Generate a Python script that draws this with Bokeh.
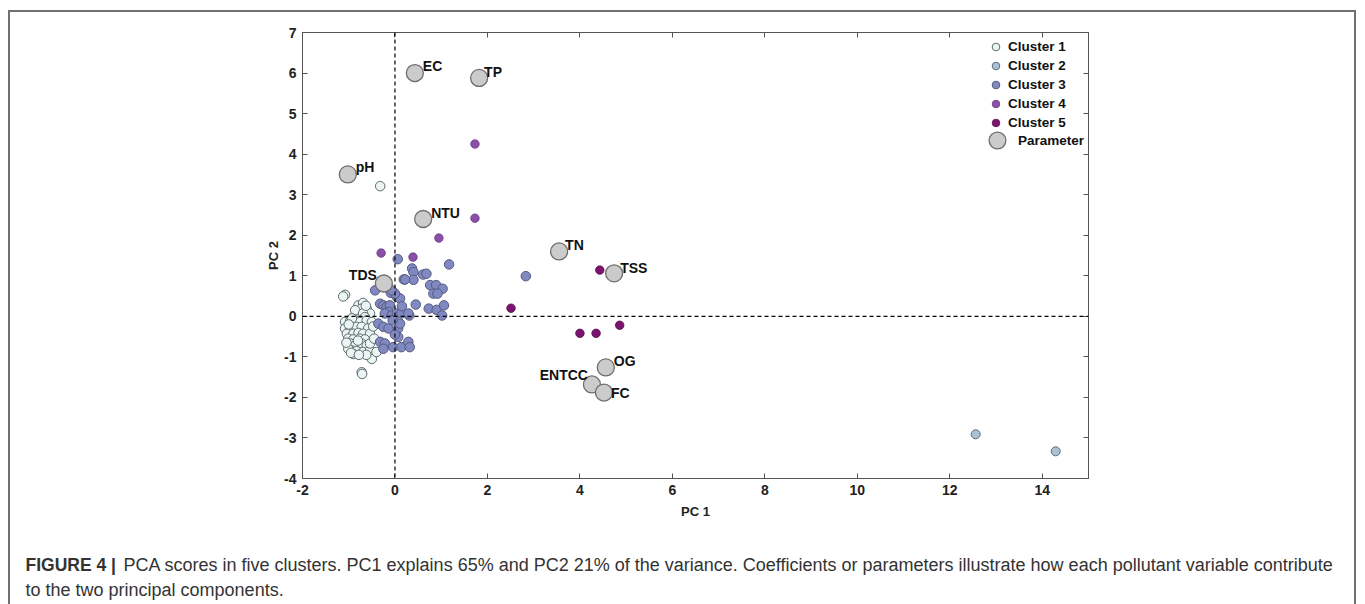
from bokeh.plotting import figure
from bokeh.models import (ColumnDataSource, LinearAxis, Span, Label, Legend, LegendItem,
                          FixedTicker)
from bokeh.layouts import column
from bokeh.core.properties import value
from bokeh.embed import file_html
from bokeh.resources import INLINE

# ---------------- data ----------------
c1_x = [-0.32, -1.08, -1.12, -0.72, -0.71,
        -0.79, -0.69, -0.61, -0.72, -0.86, -0.54, -0.69, -0.65, -1.08, -0.97, -0.86, -0.76, -0.61,
        -0.50, -1.08, -0.97, -0.83, -0.72, -0.58, -1.04, -0.90, -0.79, -0.69, -0.54, -1.01, -0.90,
        -0.76, -0.65, -0.97, -0.86, -0.72, -0.61, -0.94, -0.83, -0.69, -0.54, -0.90, -0.50, -0.40,
        -1.01, -0.54, -0.93, -1.00, -0.63, -0.80, -0.95, -0.45, -0.47, -0.62, -0.78, -1.05]
c1_y = [3.21, 0.53, 0.49, -1.38, -1.42,
        0.27, 0.33, 0.19, 0.19, 0.15, 0.07, 0.07, -0.02, -0.14, -0.12, -0.10, -0.14, -0.10,
        -0.14, -0.30, -0.30, -0.26, -0.26, -0.30, -0.43, -0.43, -0.41, -0.43, -0.43, -0.55, -0.57,
        -0.55, -0.57, -0.67, -0.72, -0.67, -0.72, -0.84, -0.86, -0.88, -0.84, -0.93, -1.05, -0.88,
        -0.80, -0.67, -0.05, -0.20, 0.26, -0.60, -0.90, -0.55, -0.25, -0.95, -0.95, -0.65]

c2_x = [12.56, 14.29]
c2_y = [-2.91, -3.33]

c3_x = [0.06, 1.17, 2.83, 0.37, 0.40, 0.61, 0.68, 0.19, 0.40, 0.76, 0.89, 1.03, 0.83, 0.92,
        -0.43, -0.09, 0.45, 0.73, 0.90, 1.06, 1.02, 0.31, -0.32, -0.25, -0.18, -0.11, -0.14,
        -0.22, -0.07, 0.04, 0.14, 0.29, -0.36, -0.25, -0.14, 0.07, 0.11, -0.32, -0.22, -0.04,
        0.14, 0.29, 0.32, -0.25, 0.07, 0.04, 0.11, 0.00, -0.07, 0.22, -0.05, 0.00, 0.15]
c3_y = [1.41, 1.28, 0.99, 1.18, 1.09, 1.03, 1.05, 0.91, 0.90, 0.77, 0.77, 0.68, 0.56, 0.56,
        0.64, 0.58, 0.29, 0.19, 0.16, 0.27, 0.02, 0.02, 0.31, 0.27, 0.23, 0.27, 0.11,
        0.07, 0.02, 0.07, 0.07, 0.07, -0.18, -0.26, -0.30, -0.30, -0.18, -0.63, -0.67, -0.76,
        -0.76, -0.63, -0.76, -0.80, -0.51, 0.48, 0.44, 0.56, 0.64, 0.91, -0.10, -0.45, 0.25]

c4_x = [1.73, 1.73, 0.95, -0.30, 0.39]
c4_y = [4.25, 2.42, 1.93, 1.56, 1.46]

c5_x = [4.43, 2.51, 4.00, 4.35, 4.86]
c5_y = [1.14, 0.20, -0.42, -0.42, -0.22]

param_names = ["EC", "TP", "pH", "NTU", "TN", "TSS", "TDS", "OG", "ENTCC", "FC"]
param_x = [0.43, 1.82, -1.02, 0.61, 3.55, 4.74, -0.24, 4.56, 4.26, 4.52]
param_y = [6.00, 5.88, 3.50, 2.40, 1.60, 1.06, 0.81, -1.26, -1.68, -1.88]

x_ticks = [-2, 0, 2, 4, 6, 8, 10, 12, 14]
y_ticks = [-4, -3, -2, -1, 0, 1, 2, 3, 4, 5, 6, 7]

caption_bold = "FIGURE 4 |"
caption_line1 = ("PCA scores in five clusters. PC1 explains 65% and PC2 21% of the variance. "
                 "Coefficients or parameters illustrate how each pollutant variable contribute")
caption_line2 = "to the two principal components."

# label placement (style only)
lab_dx = [8, 5, 8, 8, 6, 6, -7, 8, -4, 7]
lab_dy = [-7, -6, -7, -6, -6, -5, -8, -6, -9, 0]
lab_align = ["left", "left", "left", "left", "left", "left", "right", "left", "right", "left"]

# ---------------- layout constants ----------------
FONT = "Liberation Sans"
OX, OY = 10, 12          # canvas offset of inner content (after margin + border)
W = 1344                 # inner width
CH = 513                 # chart figure height
CAPH = 92                # caption figure height

# ---------------- chart ----------------
p = figure(width=W, height=CH, x_range=(-2, 15), y_range=(-4, 7),
           output_backend="svg", toolbar_location=None,
           min_border_left=302 - OX, min_border_right=W - (1088 - OX),
           min_border_top=32 - OY, min_border_bottom=CH - (478 - OY),
           background_fill_color="white", border_fill_color="white")
p.frame_align = False
p.grid.visible = False
p.outline_line_color = "#555555"
p.outline_line_width = 1

for ax in (p.xaxis[0], p.yaxis[0]):
    ax.major_tick_in = 5
    ax.major_tick_out = 0
    ax.minor_tick_line_color = None
    ax.axis_line_color = "#555555"
    ax.major_tick_line_color = "#555555"
    ax.major_label_text_font = FONT
    ax.major_label_text_font_style = "bold"
    ax.major_label_text_font_size = "14px"
    ax.major_label_text_color = "#222222"
    ax.axis_label_text_font = FONT
    ax.axis_label_text_font_style = "bold"
    ax.axis_label_text_font_size = "13px"
    ax.axis_label_text_color = "#222222"

p.xaxis[0].ticker = FixedTicker(ticks=x_ticks)
p.yaxis[0].ticker = FixedTicker(ticks=y_ticks)
p.xaxis[0].major_label_overrides = {t: str(t) for t in x_ticks}
p.yaxis[0].major_label_overrides = {t: str(t) for t in y_ticks}
p.xaxis[0].axis_label = "PC 1"
p.yaxis[0].axis_label = "PC 2"
p.xaxis[0].major_label_standoff = 6
p.yaxis[0].major_label_standoff = 6
p.xaxis[0].axis_label_standoff = 6
p.yaxis[0].axis_label_standoff = 0

top = LinearAxis(ticker=FixedTicker(ticks=x_ticks),
                 major_label_overrides={t: "" for t in x_ticks},
                 major_tick_in=5, major_tick_out=0, minor_tick_line_color=None,
                 axis_line_color="#555555", major_tick_line_color="#555555",
                 major_label_standoff=0)
right = LinearAxis(ticker=FixedTicker(ticks=y_ticks),
                   major_label_overrides={t: "" for t in y_ticks},
                   major_tick_in=5, major_tick_out=0, minor_tick_line_color=None,
                   axis_line_color="#555555", major_tick_line_color="#555555",
                   major_label_standoff=0)
p.add_layout(top, "above")
p.add_layout(right, "right")

p.add_layout(Span(location=0, dimension="height", line_color="black", line_dash="4 3", line_width=1.2))
p.add_layout(Span(location=0, dimension="width", line_color="black", line_dash="4 3", line_width=1.2))

r1 = p.scatter(c1_x, c1_y, size=9.5, fill_color="#eaf5f4", line_color="#5f6b6b", line_width=1)
r2 = p.scatter(c2_x, c2_y, size=9, fill_color="#a9c2d8", line_color="#5f6b73", line_width=1)
r3 = p.scatter(c3_x, c3_y, size=9.5, fill_color="#8189c2", line_color="#555a7e", line_width=1)
r4 = p.scatter(c4_x, c4_y, size=8.5, fill_color="#8c4fa8", line_color="#6a3a82", line_width=0.8)
r5 = p.scatter(c5_x, c5_y, size=8.5, fill_color="#7b136f", line_color="#5a0d50", line_width=0.8)

psrc = ColumnDataSource(dict(x=param_x, y=param_y, name=param_names,
                             dx=lab_dx, dy=lab_dy, align=lab_align))
r6 = p.scatter("x", "y", source=psrc, size=17, fill_color="#cbcbcb", line_color="#6e6e6e", line_width=1.3)
p.text("x", "y", text="name", source=psrc, x_offset="dx", y_offset="dy", text_align="align",
       text_baseline="middle", text_font=value(FONT), text_font_style="bold",
       text_font_size="14px", text_color="#111111")

leg1 = Legend(items=[LegendItem(label="Cluster 1", renderers=[r1]),
                     LegendItem(label="Cluster 2", renderers=[r2]),
                     LegendItem(label="Cluster 3", renderers=[r3]),
                     LegendItem(label="Cluster 4", renderers=[r4]),
                     LegendItem(label="Cluster 5", renderers=[r5])],
              location=(684, 346), glyph_height=19, glyph_width=19, label_height=19,
              spacing=0, padding=0, margin=0, label_standoff=3,
              background_fill_alpha=0, border_line_color=None,
              label_text_font=FONT, label_text_font_style="bold", label_text_font_size="13.5px",
              label_text_color="#111111")
leg2 = Legend(items=[LegendItem(label="Parameter", renderers=[r6])],
              location=(674, 317), glyph_height=42, glyph_width=42, label_height=42,
              spacing=0, padding=0, margin=0, label_standoff=0,
              background_fill_alpha=0, border_line_color=None,
              label_text_font=FONT, label_text_font_style="bold", label_text_font_size="13.5px",
              label_text_color="#111111")
p.add_layout(leg1, "center")
p.add_layout(leg2, "center")

# ---------------- caption ----------------
cap = figure(width=W, height=CAPH, x_range=(0, W), y_range=(CAPH, 0),
             output_backend="svg", toolbar_location=None,
             min_border=0, x_axis_type=None, y_axis_type=None,
             background_fill_color="white", border_fill_color="white")
cap.frame_align = False
cap.grid.visible = False
cap.outline_line_color = None
Y0 = OY + CH
cap.add_layout(Label(x=25 - OX, y=564 - Y0, text=caption_bold,
                     text_font=FONT, text_font_style="bold", text_font_size="17.5px",
                     text_baseline="middle", text_color="#333333"))
cap.add_layout(Label(x=123 - OX, y=564 - Y0, text=caption_line1,
                     text_font=FONT, text_font_size="18px",
                     text_baseline="middle", text_color="#333333"))
cap.add_layout(Label(x=25 - OX, y=589 - Y0, text=caption_line2,
                     text_font=FONT, text_font_size="18px",
                     text_baseline="middle", text_color="#333333"))

layout = column(p, cap, spacing=0,
                styles={"margin-left": "8px", "margin-top": "10px",
                        "border-left": "2px solid #707070",
                        "border-top": "2px solid #707070",
                        "border-right": "2px solid #707070"})

open("out.html", "w").write(file_html(layout, INLINE))
